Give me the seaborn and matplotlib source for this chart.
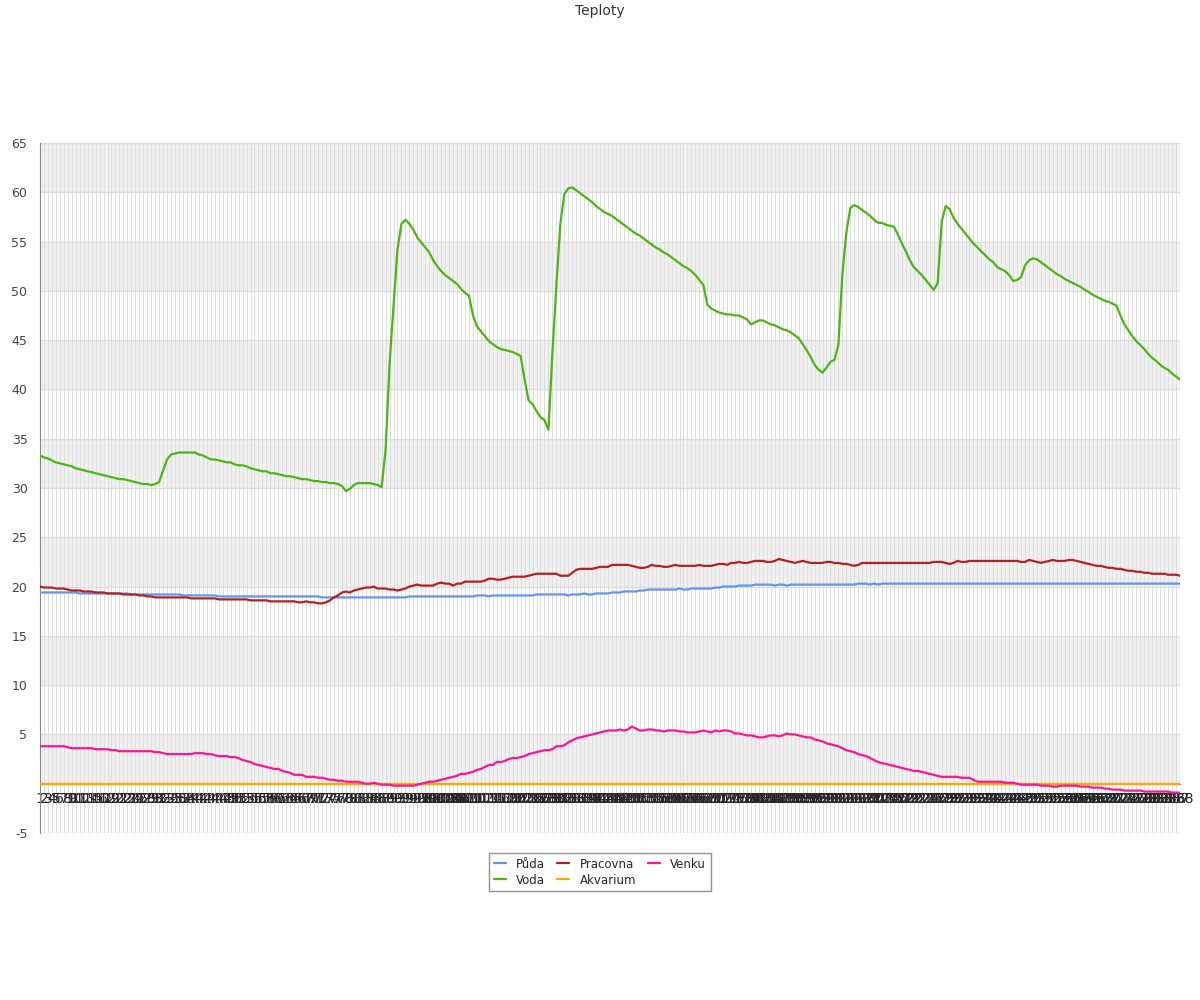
import numpy as np
import pandas as pd
import matplotlib
matplotlib.use("Agg")
import matplotlib.pyplot as plt
from matplotlib.ticker import MultipleLocator
import seaborn as sns

# --- Data (one reading per step, 288 steps) ---
series_names = ["Půda", "Voda", "Pracovna", "Akvarium", "Venku"]
series_colors = ["#6495ed", "#4cb515", "#b22222", "#ffa500", "#ff1493"]

puda = [
    19.4, 19.4, 19.4, 19.4, 19.4, 19.4, 19.4, 19.4, 19.4, 19.4,
    19.3, 19.3, 19.3, 19.3, 19.3, 19.3, 19.3, 19.3, 19.3, 19.3,
    19.3, 19.3, 19.3, 19.2, 19.2, 19.2, 19.2, 19.2, 19.2, 19.2,
    19.2, 19.2, 19.2, 19.2, 19.2, 19.2, 19.1, 19.1, 19.1, 19.1,
    19.1, 19.1, 19.1, 19.1, 19.1, 19.0, 19.0, 19.0, 19.0, 19.0,
    19.0, 19.0, 19.0, 19.0, 19.0, 19.0, 19.0, 19.0, 19.0, 19.0,
    19.0, 19.0, 19.0, 19.0, 19.0, 19.0, 19.0, 19.0, 19.0, 19.0,
    19.0, 18.9, 18.9, 18.9, 18.9, 18.9, 18.9, 18.9, 18.9, 18.9,
    18.9, 18.9, 18.9, 18.9, 18.9, 18.9, 18.9, 18.9, 18.9, 18.9,
    18.9, 18.9, 18.9, 19.0, 19.0, 19.0, 19.0, 19.0, 19.0, 19.0,
    19.0, 19.0, 19.0, 19.0, 19.0, 19.0, 19.0, 19.0, 19.0, 19.0,
    19.1, 19.1, 19.1, 19.0, 19.1, 19.1, 19.1, 19.1, 19.1, 19.1,
    19.1, 19.1, 19.1, 19.1, 19.1, 19.2, 19.2, 19.2, 19.2, 19.2,
    19.2, 19.2, 19.2, 19.1, 19.2, 19.2, 19.2, 19.3, 19.2, 19.2,
    19.3, 19.3, 19.3, 19.3, 19.4, 19.4, 19.4, 19.5, 19.5, 19.5,
    19.5, 19.6, 19.6, 19.7, 19.7, 19.7, 19.7, 19.7, 19.7, 19.7,
    19.7, 19.8, 19.7, 19.7, 19.8, 19.8, 19.8, 19.8, 19.8, 19.8,
    19.9, 19.9, 20.0, 20.0, 20.0, 20.0, 20.1, 20.1, 20.1, 20.1,
    20.2, 20.2, 20.2, 20.2, 20.2, 20.1, 20.2, 20.2, 20.1, 20.2,
    20.2, 20.2, 20.2, 20.2, 20.2, 20.2, 20.2, 20.2, 20.2, 20.2,
    20.2, 20.2, 20.2, 20.2, 20.2, 20.2, 20.3, 20.3, 20.3, 20.2,
    20.3, 20.2, 20.3, 20.3, 20.3, 20.3, 20.3, 20.3, 20.3, 20.3,
    20.3, 20.3, 20.3, 20.3, 20.3, 20.3, 20.3, 20.3, 20.3, 20.3,
    20.3, 20.3, 20.3, 20.3, 20.3, 20.3, 20.3, 20.3, 20.3, 20.3,
    20.3, 20.3, 20.3, 20.3, 20.3, 20.3, 20.3, 20.3, 20.3, 20.3,
    20.3, 20.3, 20.3, 20.3, 20.3, 20.3, 20.3, 20.3, 20.3, 20.3,
    20.3, 20.3, 20.3, 20.3, 20.3, 20.3, 20.3, 20.3, 20.3, 20.3,
    20.3, 20.3, 20.3, 20.3, 20.3, 20.3, 20.3, 20.3, 20.3, 20.3,
    20.3, 20.3, 20.3, 20.3, 20.3, 20.3, 20.3, 20.3,
]

voda = [
    33.3, 33.1, 33.0, 32.8, 32.6, 32.5, 32.4, 32.3, 32.2, 32.0,
    31.9, 31.8, 31.7, 31.6, 31.5, 31.4, 31.3, 31.2, 31.1, 31.0,
    30.9, 30.9, 30.8, 30.7, 30.6, 30.5, 30.4, 30.4, 30.3, 30.4,
    30.6, 31.8, 32.9, 33.4, 33.5, 33.6, 33.6, 33.6, 33.6, 33.6,
    33.4, 33.3, 33.1, 32.9, 32.9, 32.8, 32.7, 32.6, 32.6, 32.4,
    32.3, 32.3, 32.2, 32.0, 31.9, 31.8, 31.7, 31.7, 31.5, 31.5,
    31.4, 31.3, 31.2, 31.2, 31.1, 31.0, 30.9, 30.9, 30.8, 30.7,
    30.7, 30.6, 30.6, 30.5, 30.5, 30.4, 30.2, 29.7, 29.9, 30.3,
    30.5, 30.5, 30.5, 30.5, 30.4, 30.3, 30.1, 33.8, 42.5, 48.5,
    54.2, 56.8, 57.2, 56.8, 56.2, 55.4, 54.9, 54.4, 53.9, 53.1,
    52.5, 52.0, 51.6, 51.3, 51.0, 50.7, 50.2, 49.8, 49.5, 47.5,
    46.4, 45.9, 45.4, 44.9, 44.6, 44.3, 44.1, 44.0, 43.9, 43.8,
    43.6, 43.4, 41.0, 38.9, 38.5, 37.8, 37.2, 36.9, 35.9, 43.7,
    50.6, 56.8, 59.8, 60.4, 60.5, 60.2, 59.9, 59.6, 59.3, 59.0,
    58.6, 58.3, 58.0, 57.8, 57.6, 57.3, 57.0, 56.7, 56.4, 56.1,
    55.8, 55.6, 55.3, 55.0, 54.7, 54.4, 54.2, 53.9, 53.7, 53.4,
    53.1, 52.8, 52.5, 52.3, 52.0, 51.6, 51.1, 50.6, 48.6, 48.2,
    48.0, 47.8, 47.7, 47.6, 47.6, 47.5, 47.5, 47.3, 47.1, 46.6,
    46.8, 47.0, 47.0, 46.8, 46.6, 46.5, 46.3, 46.1, 46.0, 45.8,
    45.5, 45.2, 44.6, 44.0, 43.3, 42.5, 42.0, 41.7, 42.2, 42.8,
    43.0, 44.5, 51.7, 55.9, 58.4, 58.7, 58.5, 58.2, 57.9, 57.6,
    57.2, 56.9, 56.9, 56.7, 56.6, 56.5, 55.7, 54.8, 54.0, 53.1,
    52.4, 52.0, 51.6, 51.1, 50.6, 50.1, 50.8, 57.0, 58.6, 58.3,
    57.4, 56.8, 56.3, 55.8, 55.3, 54.8, 54.4, 54.0, 53.6, 53.2,
    52.9, 52.4, 52.2, 52.0, 51.6, 51.0, 51.1, 51.4, 52.6, 53.1,
    53.3, 53.2, 52.9, 52.6, 52.3, 52.0, 51.7, 51.5, 51.2, 51.0,
    50.8, 50.6, 50.4, 50.1, 49.9, 49.6, 49.4, 49.2, 49.0, 48.9,
    48.7, 48.5, 47.5, 46.6, 46.0, 45.4, 44.9, 44.5, 44.1, 43.6,
    43.2, 42.9, 42.5, 42.2, 42.0, 41.6, 41.3, 41.0,
]

pracovna = [
    20.0, 19.9, 19.9, 19.9, 19.8, 19.8, 19.8, 19.7, 19.6, 19.6,
    19.6, 19.5, 19.5, 19.5, 19.4, 19.4, 19.4, 19.3, 19.3, 19.3,
    19.3, 19.2, 19.2, 19.2, 19.2, 19.1, 19.1, 19.0, 19.0, 18.9,
    18.9, 18.9, 18.9, 18.9, 18.9, 18.9, 18.9, 18.9, 18.8, 18.8,
    18.8, 18.8, 18.8, 18.8, 18.8, 18.7, 18.7, 18.7, 18.7, 18.7,
    18.7, 18.7, 18.7, 18.6, 18.6, 18.6, 18.6, 18.6, 18.5, 18.5,
    18.5, 18.5, 18.5, 18.5, 18.5, 18.4, 18.4, 18.5, 18.4, 18.4,
    18.3, 18.3, 18.4, 18.6, 18.9, 19.1, 19.4, 19.5, 19.4, 19.6,
    19.7, 19.8, 19.9, 19.9, 20.0, 19.8, 19.8, 19.8, 19.7, 19.7,
    19.6, 19.7, 19.8, 20.0, 20.1, 20.2, 20.1, 20.1, 20.1, 20.1,
    20.3, 20.4, 20.3, 20.3, 20.1, 20.3, 20.3, 20.5, 20.5, 20.5,
    20.5, 20.5, 20.6, 20.8, 20.8, 20.7, 20.7, 20.8, 20.9, 21.0,
    21.0, 21.0, 21.0, 21.1, 21.2, 21.3, 21.3, 21.3, 21.3, 21.3,
    21.3, 21.1, 21.1, 21.1, 21.4, 21.7, 21.8, 21.8, 21.8, 21.8,
    21.9, 22.0, 22.0, 22.0, 22.2, 22.2, 22.2, 22.2, 22.2, 22.1,
    22.0, 21.9, 21.9, 22.0, 22.2, 22.1, 22.1, 22.0, 22.0, 22.1,
    22.2, 22.1, 22.1, 22.1, 22.1, 22.1, 22.2, 22.1, 22.1, 22.1,
    22.2, 22.3, 22.3, 22.2, 22.4, 22.4, 22.5, 22.4, 22.4, 22.5,
    22.6, 22.6, 22.6, 22.5, 22.5, 22.6, 22.8, 22.7, 22.6, 22.5,
    22.4, 22.5, 22.6, 22.5, 22.4, 22.4, 22.4, 22.4, 22.5, 22.5,
    22.4, 22.4, 22.3, 22.3, 22.2, 22.1, 22.2, 22.4, 22.4, 22.4,
    22.4, 22.4, 22.4, 22.4, 22.4, 22.4, 22.4, 22.4, 22.4, 22.4,
    22.4, 22.4, 22.4, 22.4, 22.4, 22.5, 22.5, 22.5, 22.4, 22.3,
    22.4, 22.6, 22.5, 22.5, 22.6, 22.6, 22.6, 22.6, 22.6, 22.6,
    22.6, 22.6, 22.6, 22.6, 22.6, 22.6, 22.6, 22.5, 22.5, 22.7,
    22.6, 22.5, 22.4, 22.5, 22.6, 22.7, 22.6, 22.6, 22.6, 22.7,
    22.7, 22.6, 22.5, 22.4, 22.3, 22.2, 22.1, 22.1, 22.0, 21.9,
    21.9, 21.8, 21.8, 21.7, 21.6, 21.6, 21.5, 21.5, 21.4, 21.4,
    21.3, 21.3, 21.3, 21.3, 21.2, 21.2, 21.2, 21.1,
]

akvarium = [
    0, 0, 0, 0, 0, 0, 0, 0, 0, 0, 0, 0, 0, 0, 0, 0, 0, 0, 0, 0, 0, 0, 0, 0,
    0, 0, 0, 0, 0, 0, 0, 0, 0, 0, 0, 0, 0, 0, 0, 0, 0, 0, 0, 0, 0, 0, 0, 0,
    0, 0, 0, 0, 0, 0, 0, 0, 0, 0, 0, 0, 0, 0, 0, 0, 0, 0, 0, 0, 0, 0, 0, 0,
    0, 0, 0, 0, 0, 0, 0, 0, 0, 0, 0, 0, 0, 0, 0, 0, 0, 0, 0, 0, 0, 0, 0, 0,
    0, 0, 0, 0, 0, 0, 0, 0, 0, 0, 0, 0, 0, 0, 0, 0, 0, 0, 0, 0, 0, 0, 0, 0,
    0, 0, 0, 0, 0, 0, 0, 0, 0, 0, 0, 0, 0, 0, 0, 0, 0, 0, 0, 0, 0, 0, 0, 0,
    0, 0, 0, 0, 0, 0, 0, 0, 0, 0, 0, 0, 0, 0, 0, 0, 0, 0, 0, 0, 0, 0, 0, 0,
    0, 0, 0, 0, 0, 0, 0, 0, 0, 0, 0, 0, 0, 0, 0, 0, 0, 0, 0, 0, 0, 0, 0, 0,
    0, 0, 0, 0, 0, 0, 0, 0, 0, 0, 0, 0, 0, 0, 0, 0, 0, 0, 0, 0, 0, 0, 0, 0,
    0, 0, 0, 0, 0, 0, 0, 0, 0, 0, 0, 0, 0, 0, 0, 0, 0, 0, 0, 0, 0, 0, 0, 0,
    0, 0, 0, 0, 0, 0, 0, 0, 0, 0, 0, 0, 0, 0, 0, 0, 0, 0, 0, 0, 0, 0, 0, 0,
    0, 0, 0, 0, 0, 0, 0, 0, 0, 0, 0, 0, 0, 0, 0, 0, 0, 0, 0, 0, 0, 0, 0, 0,
]

venku = [
    3.8, 3.8, 3.8, 3.8, 3.8, 3.8, 3.8, 3.7, 3.6, 3.6,
    3.6, 3.6, 3.6, 3.6, 3.5, 3.5, 3.5, 3.5, 3.4, 3.4,
    3.3, 3.3, 3.3, 3.3, 3.3, 3.3, 3.3, 3.3, 3.3, 3.2,
    3.2, 3.1, 3.0, 3.0, 3.0, 3.0, 3.0, 3.0, 3.0, 3.1,
    3.1, 3.1, 3.0, 3.0, 2.9, 2.8, 2.8, 2.8, 2.7, 2.7,
    2.6, 2.4, 2.3, 2.2, 2.0, 1.9, 1.8, 1.7, 1.6, 1.5,
    1.5, 1.3, 1.2, 1.1, 0.9, 0.9, 0.9, 0.7, 0.7, 0.7,
    0.6, 0.6, 0.5, 0.4, 0.4, 0.3, 0.3, 0.2, 0.2, 0.2,
    0.2, 0.1, 0.0, 0.0, 0.1, 0.0, -0.1, -0.1, -0.1, -0.2,
    -0.2, -0.2, -0.2, -0.2, -0.2, -0.1, 0.0, 0.1, 0.2, 0.2,
    0.3, 0.4, 0.5, 0.6, 0.7, 0.8, 1.0, 1.0, 1.1, 1.2,
    1.4, 1.5, 1.7, 1.9, 1.9, 2.2, 2.2, 2.3, 2.5, 2.6,
    2.6, 2.7, 2.8, 3.0, 3.1, 3.2, 3.3, 3.4, 3.4, 3.5,
    3.8, 3.8, 3.9, 4.2, 4.4, 4.6, 4.7, 4.8, 4.9, 5.0,
    5.1, 5.2, 5.3, 5.4, 5.4, 5.4, 5.5, 5.4, 5.5, 5.8,
    5.6, 5.4, 5.4, 5.5, 5.5, 5.4, 5.4, 5.3, 5.4, 5.4,
    5.4, 5.3, 5.3, 5.2, 5.2, 5.2, 5.3, 5.4, 5.3, 5.2,
    5.4, 5.3, 5.4, 5.4, 5.3, 5.1, 5.1, 5.0, 4.9, 4.9,
    4.8, 4.7, 4.7, 4.8, 4.9, 4.9, 4.8, 4.9, 5.1, 5.0,
    5.0, 4.9, 4.8, 4.7, 4.7, 4.5, 4.4, 4.3, 4.1, 4.0,
    3.9, 3.8, 3.6, 3.4, 3.3, 3.2, 3.0, 2.9, 2.8, 2.6,
    2.4, 2.2, 2.1, 2.0, 1.9, 1.8, 1.7, 1.6, 1.5, 1.4,
    1.3, 1.3, 1.2, 1.1, 1.0, 0.9, 0.8, 0.7, 0.7, 0.7,
    0.7, 0.7, 0.6, 0.6, 0.6, 0.4, 0.2, 0.2, 0.2, 0.2,
    0.2, 0.2, 0.2, 0.1, 0.1, 0.1, 0.0, -0.1, -0.1, -0.1,
    -0.1, -0.1, -0.2, -0.2, -0.2, -0.3, -0.3, -0.2, -0.2, -0.2,
    -0.2, -0.2, -0.3, -0.3, -0.3, -0.4, -0.4, -0.4, -0.5, -0.5,
    -0.6, -0.6, -0.6, -0.7, -0.7, -0.7, -0.7, -0.7, -0.8, -0.8,
    -0.8, -0.8, -0.8, -0.8, -0.8, -0.9, -0.9, -0.9,
]

steps = list(range(1, len(voda) + 1))
x_labels = [str(s) for s in steps]

# --- Long form table for seaborn ---
frames = []
for name, vals in zip(series_names, [puda, voda, pracovna, akvarium, venku]):
    frames.append(pd.DataFrame({"krok": steps, "teplota": vals, "cidlo": name}))
df = pd.concat(frames, ignore_index=True)

# --- Figure ---
sns.set_style("white")
plt.rcParams["font.family"] = ["DejaVu Sans"]

fig = plt.figure(figsize=(12, 10), dpi=100)
ax = fig.add_axes([40 / 1200, 1 - 833 / 1000, 1140 / 1200, 690 / 1000])

# alternating bands
for lo in range(0, 65, 10):
    ax.axhspan(lo, lo + 5, color="#f2f2f2", zorder=0, lw=0)

sns.lineplot(
    data=df, x="krok", y="teplota", hue="cidlo",
    hue_order=series_names, palette=series_colors,
    linewidth=1.6, ax=ax, zorder=3,
)

ax.set_xlim(steps[0], steps[-1])
ax.set_ylim(-5, 65)

ax.set_xticks(steps)
ax.set_xticklabels(x_labels, fontsize=9, color="#555555")
ax.tick_params(axis="x", length=0, pad=6)

yt = list(range(-5, 66, 5))
ax.set_yticks(yt)
ax.set_yticklabels(["" if v == 0 else str(v) for v in yt], fontsize=9, color="#444444")
ax.yaxis.set_minor_locator(MultipleLocator(1))
ax.tick_params(axis="y", which="major", length=6, width=1, color="#888888", pad=3)
ax.tick_params(axis="y", which="minor", length=3, width=1, color="#888888")

ax.grid(axis="x", color="#dedede", linewidth=0.8)
ax.grid(axis="y", which="major", color="#dcdcdc", linewidth=0.9)
ax.set_axisbelow(True)

ax.spines["top"].set_visible(False)
ax.spines["right"].set_visible(False)
ax.spines["left"].set_color("#888888")
ax.spines["bottom"].set_color("#888888")
ax.spines["bottom"].set_position(("data", 0))
ax.spines["bottom"].set_zorder(2)
ax.set_xlabel("")
ax.set_ylabel("")

handles, labels = ax.get_legend_handles_labels()
ax.legend_.remove()
leg = fig.legend(
    handles, labels, loc="upper center", bbox_to_anchor=(0.5, 0.153),
    ncol=3, fontsize=8.5, frameon=True, fancybox=False, edgecolor="#777777",
    handlelength=1.0, handletextpad=0.9, columnspacing=1.0,
    borderpad=0.4, labelspacing=0.25,
)
leg.get_frame().set_linewidth(1.0)

fig.text(0.5, 0.989, "Teploty", ha="center", va="center", fontsize=10, color="#333333")

plt.savefig("out.png", dpi=100)
